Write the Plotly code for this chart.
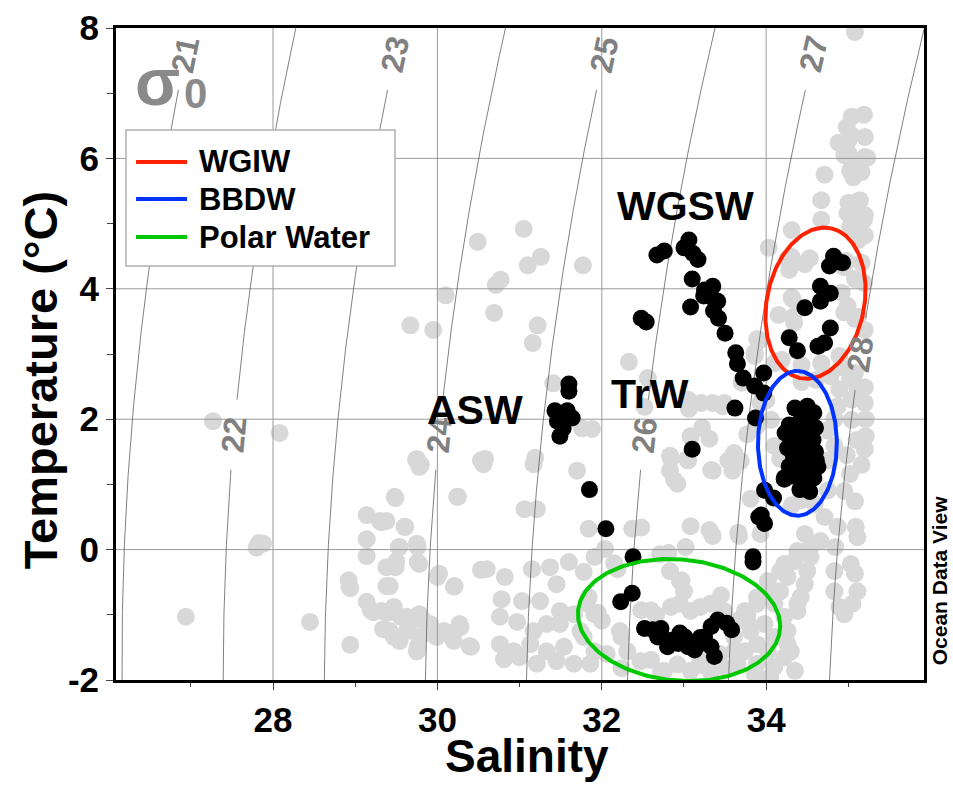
import numpy as np
import plotly.graph_objects as go

# ---------------- station data (salinity, temperature °C) ----------------
# all casts of the section, drawn in light grey
bg_sal = [
    26.94, 27.27, 28.08, 27.83, 27.88, 27.80, 28.45, 28.94, 28.92, 28.94, 29.14, 29.30, 29.14, 29.14, 29.32,
    29.49, 29.61, 29.53, 29.76, 29.49, 29.76, 29.38, 29.38, 28.93, 29.14, 29.19, 29.22, 29.32, 29.39, 29.34,
    29.55, 29.67, 29.83, 29.47, 29.76, 29.92, 30.13, 30.28, 30.41, 30.00, 30.20, 29.74, 29.80, 30.53, 30.25,
    30.53, 30.58, 31.19, 30.49, 30.10, 29.67, 29.95, 31.05, 31.26, 31.10, 30.77, 30.71, 31.77, 30.69, 31.22,
    31.16, 32.33, 31.41, 32.56, 31.76, 31.88,
    35.08, 35.04, 35.19, 34.98, 35.00, 35.20, 34.88, 35.00, 35.20, 35.04, 35.16, 34.71, 35.06, 35.14, 35.00,
    34.67, 35.06, 35.19, 34.67, 35.02, 35.12, 34.31, 34.03, 34.31, 34.53, 34.28, 34.95, 35.16, 35.19, 34.31,
    34.15, 34.33, 34.92, 34.95, 35.12, 35.20, 33.92, 33.86, 34.19, 34.67, 34.92, 35.08, 34.43, 35.20, 33.70,
    35.03, 34.95, 35.23, 35.02, 35.08, 34.99, 35.20, 35.08, 35.20, 34.26, 34.47, 34.97, 35.08, 34.99, 35.08,
    34.32, 34.34, 33.89, 33.86, 34.10, 34.89, 34.78, 35.02, 35.11, 35.20, 35.21, 35.21, 35.20, 34.89, 34.87,
    34.83, 34.83, 34.22, 34.10, 34.17, 33.35, 33.47, 33.06, 33.22, 33.31, 33.08, 33.04, 32.83, 33.77, 33.61,
    33.69, 33.93, 33.89, 33.49, 33.05, 33.21, 32.52, 33.54, 32.84, 35.04, 35.10, 34.98, 35.16, 35.04, 34.43,
    34.61, 34.06, 34.00, 34.74, 34.75, 34.43, 34.75, 34.31,
    35.02, 34.95, 35.08, 35.09, 35.11, 35.03, 35.08, 35.11, 35.05, 34.95, 34.87, 34.84, 34.83, 34.83, 34.89,
    34.59, 34.71, 34.47, 34.66, 34.38, 34.54, 34.22, 34.50, 34.26, 34.47, 34.17, 34.42, 34.10, 34.38, 34.22,
    33.98, 34.26, 34.10, 33.89, 34.26, 34.02, 34.22, 33.89, 34.10, 34.30, 34.38, 33.89, 33.77, 33.65, 33.81,
    33.61, 33.74, 33.65, 33.86, 34.05, 34.35, 34.17, 34.02, 34.34, 34.54, 32.92, 33.35, 33.08, 33.35, 33.67,
    33.02, 33.81, 32.71, 33.93, 33.59, 32.83, 32.83, 32.95, 33.00, 32.95, 33.08, 33.20, 33.32, 33.49, 33.74,
    33.89, 34.02, 33.77, 33.61, 33.44, 33.20, 32.92, 32.76, 33.08,
    29.78, 30.56, 31.17, 31.70, 29.48, 30.24, 31.06, 31.21, 31.84, 32.37, 29.60, 29.38, 29.75, 29.54, 29.78,
    29.50, 29.42, 30.02, 30.21, 30.60, 30.82, 31.15, 31.37, 31.60, 31.45, 31.78, 31.91, 32.04, 32.19, 30.78,
    31.03, 31.25, 31.49, 31.66, 31.82, 30.76, 30.97, 31.17, 31.33, 31.49, 31.74, 31.91, 32.00, 30.76, 30.93,
    31.13, 31.33, 31.54, 31.78, 31.91, 32.06, 32.22, 32.31, 32.47, 29.47, 29.63, 29.78, 29.91, 30.08, 30.27,
    30.39, 30.20, 29.99, 29.78, 29.63, 29.42, 29.54, 29.75, 31.00, 31.21, 31.45, 31.66, 31.86, 30.81, 32.15,
    33.05, 33.33, 32.88, 33.31, 33.66, 32.48, 32.81, 32.97, 32.84, 31.95, 31.84, 32.60, 32.24, 32.48, 32.66,
    33.45, 32.60, 33.21, 33.52, 32.24, 32.72, 33.33, 29.75,
]
bg_temp = [
    -1.03, 1.97, 1.79, 0.10, 0.09, 0.03, -1.11, -1.46, -0.47, -0.59, 0.53, 0.44, 0.16, -0.10, 0.42,
    0.79, 0.35, 0.04, 0.04, -0.27, -0.19, -0.56, -0.27, -0.57, -0.80, -0.93, -0.96, -0.94, -0.97, -1.22,
    -1.03, -1.13, -1.08, -1.34, -1.49, -1.28, -1.28, -1.19, -1.49, -0.42, -0.57, 1.38, 1.30, 1.37, 0.81,
    -0.31, 1.39, 1.41, 4.72, 3.90, 3.44, 3.37, 4.92, 4.49, 4.36, 4.14, 4.06, 4.36, 3.63, 3.44,
    3.17, 2.88, 2.55, 2.63, 1.86, 1.85,
    7.94, 6.64, 6.67, 6.48, 6.28, 6.33, 6.24, 6.08, 6.02, 5.87, 5.79, 5.75, 5.71, 5.36, 5.32,
    5.36, 5.16, 5.06, 5.06, 4.95, 4.75, 4.90, 4.63, 4.49, 4.47, 4.29, 4.33, 4.40, 4.09, 3.87,
    3.60, 3.57, 3.94, 3.64, 3.57, 3.37, 3.21, 3.02, 2.91, 2.86, 2.80, 2.71, 2.57, 2.49, 2.56,
    6.36, 6.05, 6.01, 5.81, 5.32, 5.16, 5.13, 4.93, 4.82, 4.46, 4.38, 4.43, 4.15, 3.74, 3.54,
    3.84, 3.48, 3.23, 2.97, 2.86, 2.97, 2.66, 2.62, 2.46, 2.25, 2.00, 1.74, 1.54, 2.46, 2.20,
    2.00, 1.59, 1.59, 1.59, 1.39, 2.25, 2.20, 2.16, 1.87, 1.70, 1.74, 1.39, 1.44, 1.77, 1.48,
    1.36, 2.25, 1.90, 2.25, 2.30, 2.25, 2.19, 1.37, 1.40, 1.99, 1.68, 1.45, 1.30, 2.30, 2.83,
    2.60, 1.99, 2.29, 1.83, 1.37, 0.76, 0.91, 0.68,
    1.16, 0.90, 0.74, 0.35, 0.19, -0.22, -0.37, -0.64, -0.83, -0.99, 0.35, 0.04, -0.33, -0.64, -0.88,
    0.70, 0.50, 0.24, 0.13, -0.02, -0.11, -0.22, -0.33, -0.42, -0.53, -0.64, -0.73, -0.83, -0.94, -1.03,
    -1.14, -1.25, -1.34, -1.45, -1.45, -1.56, -1.65, -1.75, -1.80, -1.56, -0.83, -0.83, -0.99, -1.09, -1.25,
    -1.34, -1.56, -1.75, -1.91, -1.95, -1.86, -0.33, -0.48, -0.18, 0.04, 1.01, 1.21, 0.36, 0.21, 0.21,
    0.04, 0.78, -0.07, 0.24, 1.21, 1.21, -0.33, -0.48, -0.64, -0.83, -0.94, -0.88, -0.83, -0.94, -0.94,
    -0.73, -0.64, -1.09, -1.56, -1.60, -1.71, -1.76, -1.86, -1.86,
    1.27, 1.31, 1.31, 1.21, 0.81, 0.81, 0.62, 0.62, 0.32, 0.32, 0.35, 0.44, 0.09, 0.04, -0.22,
    -0.18, -0.56, -0.37, -0.56, -0.30, -0.42, -0.30, -0.27, -0.19, -0.53, -0.34, -0.11, 0.01, -0.30, -0.76,
    -0.79, -0.79, -0.94, -0.99, -0.83, -1.03, -1.11, -1.25, -1.14, -1.14, -1.25, -0.99, -1.09, -1.45, -1.56,
    -1.45, -1.56, -1.49, -1.34, -1.56, -1.60, -1.25, -1.56, -1.71, -0.88, -1.03, -0.99, -1.14, -1.25, -1.14,
    -1.48, -1.40, -1.34, -1.34, -1.25, -1.25, -1.40, -1.56, -1.65, -1.75, -1.71, -1.75, -1.75, -1.68, -0.21,
    1.37, 1.22, 1.07, 0.30, 0.26, 0.34, -0.05, -0.47, -0.88, -0.97, -0.73, -0.93, -1.34, -0.93, -1.00,
    -0.70, -1.69, -1.77, -1.82, -1.82, -1.88, -1.88, 1.39,
]

# highlighted station, drawn in black
st_sal = [
    32.67, 32.76, 33.06, 33.00, 33.11, 33.17, 33.10, 33.25, 33.35, 33.37, 33.08, 33.24, 33.41, 33.36, 33.42,
    33.50, 33.63, 33.65, 33.72, 33.97, 33.86, 33.97, 33.62, 33.87, 32.48, 32.54, 33.10,
    34.82, 34.89, 34.77, 34.93, 34.66, 34.78, 34.66, 34.47, 34.78, 34.71, 34.63, 34.28, 34.38,
    31.60, 31.60, 31.43, 31.58, 31.64, 31.46, 31.49, 31.53,
    31.85, 32.05, 32.38, 32.37, 32.23,
    32.52, 32.62, 32.72, 32.68, 32.80, 32.93, 33.01, 33.05, 33.13, 33.25, 33.33, 33.41, 33.52, 33.58, 33.33,
    33.37, 33.21, 32.85, 32.95, 33.08, 33.20,
    33.98, 34.09, 33.94, 33.98, 33.84, 33.84, 34.22, 33.91,
    34.35, 34.50, 34.58, 34.43, 34.28, 34.39, 34.53, 34.60, 34.31, 34.47, 34.57, 34.38, 34.26, 34.50, 34.60,
    34.33, 34.43, 34.55, 34.63, 34.28, 34.39, 34.49, 34.31, 34.58, 34.43, 34.22, 34.50, 34.53, 34.41, 34.61,
    34.23,
]
st_temp = [
    4.52, 4.58, 4.75, 4.63, 4.54, 4.45, 4.15, 3.98, 4.04, 3.83, 3.72, 3.89, 3.81, 3.66, 3.55,
    3.32, 3.02, 2.85, 2.63, 2.71, 2.51, 2.40, 2.17, 2.02, 3.55, 3.49, 1.54,
    4.50, 4.41, 4.35, 4.40, 4.04, 3.93, 3.81, 3.71, 3.40, 3.17, 3.12, 3.25, 3.05,
    2.54, 2.43, 2.13, 2.13, 2.02, 1.97, 1.74, 1.86,
    0.92, 0.32, -0.11, -0.67, -0.80,
    -1.21, -1.23, -1.21, -1.34, -1.49, -1.44, -1.34, -1.49, -1.54, -1.34, -1.18, -1.08, -1.13, -1.23, -1.49,
    -1.64, -1.44, -1.39, -1.28, -1.45, -1.35,
    0.91, 0.79, 0.53, 0.40, -0.11, -0.19, 1.08, 0.50,
    2.17, 2.20, 2.10, 2.07, 1.91, 1.93, 1.96, 1.87, 1.74, 1.80, 1.68, 1.62, 1.56, 1.53, 1.50,
    1.44, 1.37, 1.34, 1.27, 1.28, 1.22, 1.16, 1.13, 1.10, 1.04, 1.10, 0.96, 0.89, 0.92, 1.37,
    1.79,
]

# water-mass envelopes: centre and two conjugate semi-axes in (S, T)
mass_names = ["WGIW", "BBDW", "Polar Water"]
mass_colors = ["#ff2200", "#0033ff", "#00c800"]
mass_c_sal = [34.60, 34.38, 32.94]
mass_c_temp = [3.78, 1.63, -1.08]
mass_a_sal = [0.183, 0.0, 1.230]
mass_a_temp = [1.150, 1.11, -0.067]
mass_b_sal = [0.581, 0.48, -0.033]
mass_b_temp = [-0.146, 0.0, 0.934]

# water-type labels
wl_text = ["WGSW", "ASW", "TrW"]
wl_sal = [33.02, 30.46, 32.59]
wl_temp = [5.27, 2.14, 2.39]

# potential-density isolines and where their labels sit (temperature)
sigma_levels = [21, 22, 23, 24, 25, 26, 27, 28]
sigma_label_temp = [7.6, 1.76, 7.6, 1.76, 7.6, 1.76, 7.6, 3.0]

x_range = [26.09, 35.92]
y_range = [-2, 8]
x_ticks = [28, 30, 32, 34]
x_minor = [27, 29, 31, 33, 35]
y_ticks = [-2, 0, 2, 4, 6, 8]
y_minor = [-1, 1, 3, 5, 7]

# ---------------- figure geometry ----------------
W, H = 953, 785
ML, MR, MT, MB = 116, 29, 28, 105
PW, PH = W - ML - MR, H - MT - MB
FONT = "Liberation Sans, Arial, sans-serif"


def sigma0(S, T):
    """UNESCO (1981) equation of state at the sea surface, minus 1000."""
    S = np.asarray(S, float)
    T = np.asarray(T, float)
    rho_w = (999.842594 + 6.793952e-2 * T - 9.095290e-3 * T**2 + 1.001685e-4 * T**3
             - 1.120083e-6 * T**4 + 6.536332e-9 * T**5)
    A = 8.24493e-1 - 4.0899e-3 * T + 7.6438e-5 * T**2 - 8.2467e-7 * T**3 + 5.3875e-9 * T**4
    B = -5.72466e-3 + 1.0227e-4 * T - 1.6546e-6 * T**2
    C = 4.8314e-4
    return rho_w + A * S + B * S**1.5 + C * S**2 - 1000.0


def isopycnal_salinity(level, T):
    T = np.atleast_1d(np.asarray(T, float))
    lo = np.full_like(T, 15.0)
    hi = np.full_like(T, 42.0)
    for _ in range(60):
        mid = 0.5 * (lo + hi)
        heavy = sigma0(mid, T) > level
        hi = np.where(heavy, mid, hi)
        lo = np.where(heavy, lo, mid)
    return 0.5 * (lo + hi)


fig = go.Figure()

# grey background casts
fig.add_trace(go.Scatter(
    x=bg_sal, y=bg_temp, mode="markers", showlegend=False, hoverinfo="skip",
    marker=dict(size=18, color="#d8d8d8", line=dict(width=0)),
))

# grid lines at the major ticks (kept above the grey casts)
gx, gy = [], []
for v in x_ticks:
    gx += [v, v, None]
    gy += [y_range[0], y_range[1], None]
for v in y_ticks[1:-1]:
    gx += [x_range[0], x_range[1], None]
    gy += [v, v, None]
fig.add_trace(go.Scatter(x=gx, y=gy, mode="lines", showlegend=False, hoverinfo="skip",
                         line=dict(color="#9a9a9a", width=1)))

# sigma-0 isolines, broken where their labels sit
t_grid = np.linspace(y_range[0], y_range[1], 401)
gap = 0.53
ix, iy = [], []
px_per_s = PW / (x_range[1] - x_range[0])
px_per_t = PH / (y_range[1] - y_range[0])
for lev, tl in zip(sigma_levels, sigma_label_temp):
    s_line = isopycnal_salinity(lev, t_grid)
    for s, t in zip(s_line, t_grid):
        if abs(t - tl) < gap:
            ix.append(None)
            iy.append(None)
        else:
            ix.append(float(s))
            iy.append(float(t))
    ix.append(None)
    iy.append(None)

    s_lab = float(isopycnal_salinity(lev, tl)[0])
    ds = float(isopycnal_salinity(lev, tl + 0.05)[0] - isopycnal_salinity(lev, tl - 0.05)[0]) / 0.1
    tilt = np.degrees(np.arctan(ds * px_per_s / px_per_t))
    fig.add_annotation(x=s_lab, y=tl, xref="x", yref="y", text=str(lev), showarrow=False,
                       textangle=-90 + tilt, xanchor="center", yanchor="middle",
                       font=dict(family=FONT, size=32, color="#808080", weight="bold"))

fig.add_trace(go.Scatter(x=ix, y=iy, mode="lines", showlegend=False, hoverinfo="skip",
                         line=dict(color="#606060", width=0.8)))

# highlighted station
fig.add_trace(go.Scatter(
    x=st_sal, y=st_temp, mode="markers", showlegend=False, hoverinfo="skip",
    marker=dict(size=17, color="black", line=dict(width=0)),
))

# water-mass envelopes
tt = np.linspace(0, 2 * np.pi, 241)
for i, name in enumerate(mass_names):
    es = mass_c_sal[i] + mass_a_sal[i] * np.cos(tt) + mass_b_sal[i] * np.sin(tt)
    et = mass_c_temp[i] + mass_a_temp[i] * np.cos(tt) + mass_b_temp[i] * np.sin(tt)
    fig.add_trace(go.Scatter(x=es, y=et, mode="lines", name=name, showlegend=False,
                             hoverinfo="skip", line=dict(color=mass_colors[i], width=4)))

# water-type labels
for txt, s, t in zip(wl_text, wl_sal, wl_temp):
    fig.add_annotation(x=s, y=t, xref="x", yref="y", text=txt, showarrow=False,
                       font=dict(family=FONT, size=41, color="black", weight="bold"))

# key for the envelopes
shapes = [dict(type="rect", xref="paper", yref="paper", x0=0.0124, x1=0.3453, y0=0.635, y1=0.8436,
               fillcolor="white", line=dict(color="#b0b0b0", width=1.5), layer="above")]
row_y = [0.7945, 0.7377, 0.6794]
for i, name in enumerate(mass_names):
    shapes.append(dict(type="line", xref="paper", yref="paper", x0=0.0248, x1=0.0879,
                       y0=row_y[i], y1=row_y[i], line=dict(color=mass_colors[i], width=4),
                       layer="above"))
    fig.add_annotation(x=0.1002, y=row_y[i], xref="paper", yref="paper", text=name,
                       showarrow=False, xanchor="left", yanchor="middle",
                       font=dict(family=FONT, size=31, color="black", weight="bold"))

# sigma-0 symbol
fig.add_annotation(x=0.0508, y=0.917, xref="paper", yref="paper", text="σ", showarrow=False,
                   xanchor="center", yanchor="middle",
                   font=dict(family=FONT, size=66, color="#8a8a8a", weight="bold"))
fig.add_annotation(x=0.0990, y=0.900, xref="paper", yref="paper", text="0", showarrow=False,
                   xanchor="center", yanchor="middle",
                   font=dict(family=FONT, size=42, color="#8a8a8a", weight="bold"))

# axis titles and credit
fig.add_annotation(x=0.5087, y=-0.1163, xref="paper", yref="paper", text="Salinity",
                   showarrow=False, xanchor="center", yanchor="middle",
                   font=dict(family=FONT, size=46, color="black", weight="bold"))
fig.add_annotation(x=-0.094, y=0.46, xref="paper", yref="paper", text="Temperature (°C)",
                   showarrow=False, textangle=-90, xanchor="center", yanchor="middle",
                   font=dict(family=FONT, size=47, color="black", weight="bold"))
fig.add_annotation(x=1.0186, y=0.153, xref="paper", yref="paper", text="Ocean Data View",
                   showarrow=False, textangle=-90, xanchor="center", yanchor="middle",
                   font=dict(family=FONT, size=21, color="black", weight="bold"))

axis_common = dict(
    showline=True, mirror=True, linewidth=3, linecolor="black",
    showgrid=False, zeroline=False, ticks="outside", ticklen=7, tickwidth=1, tickcolor="#444",
    tickfont=dict(family=FONT, size=35, color="black", weight="bold"),
)
fig.update_xaxes(range=x_range, tickvals=x_ticks, ticktext=[str(v) for v in x_ticks],
                 minor=dict(tickvals=x_minor, ticks="outside", ticklen=4, tickcolor="#444",
                            showgrid=False),
                 **axis_common)
fig.update_yaxes(range=y_range, tickvals=y_ticks, ticktext=[str(v) for v in y_ticks],
                 minor=dict(tickvals=y_minor, ticks="outside", ticklen=6, tickcolor="#444",
                            showgrid=False),
                 **axis_common)

fig.update_layout(
    width=W, height=H, margin=dict(l=ML, r=MR, t=MT, b=MB, autoexpand=False),
    plot_bgcolor="white", paper_bgcolor="white", shapes=shapes, showlegend=False,
    font=dict(family=FONT),
)

fig.write_html("out.html")
